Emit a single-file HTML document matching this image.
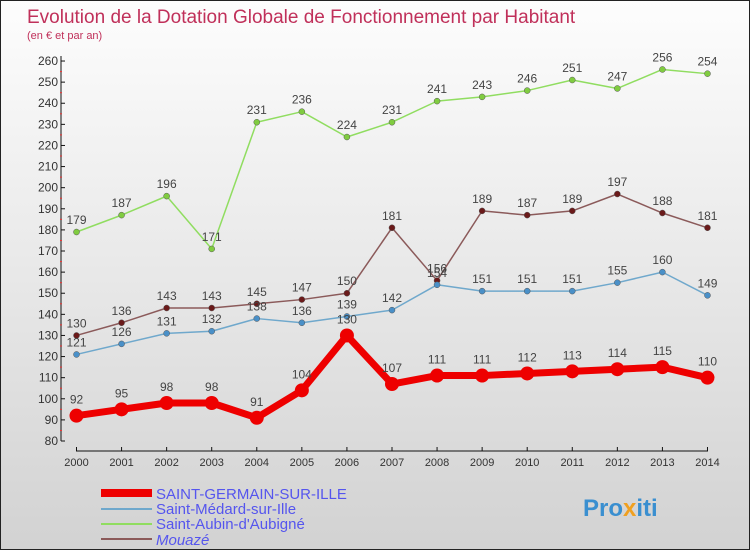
<!DOCTYPE html>
<html><head><meta charset="utf-8"><style>
body{margin:0}
#c{width:748px;height:548px;border:1px solid #222;background:linear-gradient(#fdfdfd,#e8e8e8 50%,#d2d2d2);position:relative;font-family:"Liberation Sans",sans-serif}
</style></head><body>
<div id="c">
<svg id="s" width="748" height="548" style="position:absolute;left:0;top:0" font-family="Liberation Sans, sans-serif">
<text x="26" y="22" font-size="19" fill="#c0305a">Evolution de la Dotation Globale de Fonctionnement par Habitant</text>
<text x="26" y="38" font-size="11" fill="#c0305a">(en € et par an)</text>
<g id="g"></g>
<g>
<line x1="100" y1="492" x2="151" y2="492" stroke="#e00" stroke-width="8"/>
<text x="155" y="498" font-size="15" fill="#5555ee">SAINT-GERMAIN-SUR-ILLE</text>
<line x1="100" y1="508" x2="151" y2="508" stroke="#6fa8cc" stroke-width="2"/>
<text x="155" y="513" font-size="15" fill="#5555ee">Saint-Médard-sur-Ille</text>
<line x1="100" y1="523" x2="151" y2="523" stroke="#90dd60" stroke-width="2"/>
<text x="155" y="528" font-size="15" fill="#5555ee">Saint-Aubin-d'Aubigné</text>
<line x1="100" y1="538" x2="151" y2="538" stroke="#8b5a5a" stroke-width="2"/>
<text x="155" y="544" font-size="15" fill="#5555ee" font-style="italic">Mouazé</text>
</g>
<text x="582" y="515" font-size="24" font-weight="bold" fill="#3a8fd0">Pro<tspan fill="#f0a020">x</tspan>iti</text>
</svg>
</div>
<script>
const years=[2000,2001,2002,2003,2004,2005,2006,2007,2008,2009,2010,2011,2012,2013,2014];
const yTicks=[80,90,100,110,120,130,140,150,160,170,180,190,200,210,220,230,240,250,260];
const sgValues=[92,95,98,98,91,104,130,107,111,111,112,113,114,115,110];
const smValues=[121,126,131,132,138,136,139,142,154,151,151,151,155,160,149];
const saValues=[179,187,196,171,231,236,224,231,241,243,246,251,247,256,254];
const moValues=[130,136,143,143,145,147,150,181,156,189,187,189,197,188,181];
const NS="http://www.w3.org/2000/svg";
const g=document.getElementById('g');
function xS(i){return 75.5+i*45.07;}
function yS(v){return 440-(v-80)*2.111;}
function mk(t,a){const e=document.createElementNS(NS,t);for(const k in a)e.setAttribute(k,a[k]);g.appendChild(e);return e;}
let e=mk('line',{x1:60,y1:55,x2:60,y2:440,stroke:'#111'});


e=mk('line',{x1:75,y1:450,x2:707,y2:450,stroke:'#111'});


yTicks.forEach(v=>{
 mk('line',{x1:60,y1:yS(v),x2:64,y2:yS(v),stroke:'#111'});
 if(v<260)mk('line',{x1:59,y1:yS(v+5),x2:61,y2:yS(v+5),stroke:'#e33'});
 const t=mk('text',{x:57,y:yS(v)+4,'font-size':12,fill:'#333','text-anchor':'end'});
 t.textContent=v;
 
 
});
years.forEach((y,i)=>{
 mk('line',{x1:xS(i),y1:446,x2:xS(i),y2:450,stroke:'#111'});
 const t=mk('text',{x:xS(i),y:465,'font-size':11,fill:'#333','text-anchor':'middle'});
 t.textContent=y;
 
 
});
function series(vals,color,w,r,name,dot){
 const p=mk('polyline',{points:vals.map((v,i)=>xS(i)+','+yS(v)).join(' '),fill:'none',stroke:color,'stroke-width':w,'stroke-linejoin':'round'});
 
 
 vals.forEach((v,i)=>{
  const c=mk('circle',{cx:xS(i),cy:yS(v),r:r,fill:dot,stroke:dot==='#e00'?'none':'#555','stroke-width':0.5});
  
  
  const t=mk('text',{x:xS(i),y:yS(v)-(r+5),'font-size':12,fill:'#444','text-anchor':'middle'});
  t.textContent=v;
  
  
 });
}
series(saValues,'#90dd60',1.5,3,'saint-aubin','#80cc40');
series(moValues,'#8b5a5a',1.5,3,'mouaze','#6b1a1a');
series(smValues,'#6fa8cc',1.5,3,'saint-medard','#4a90c8');
series(sgValues,'#e00',7,7,'saint-germain','#e00');
</script>
</body></html>
